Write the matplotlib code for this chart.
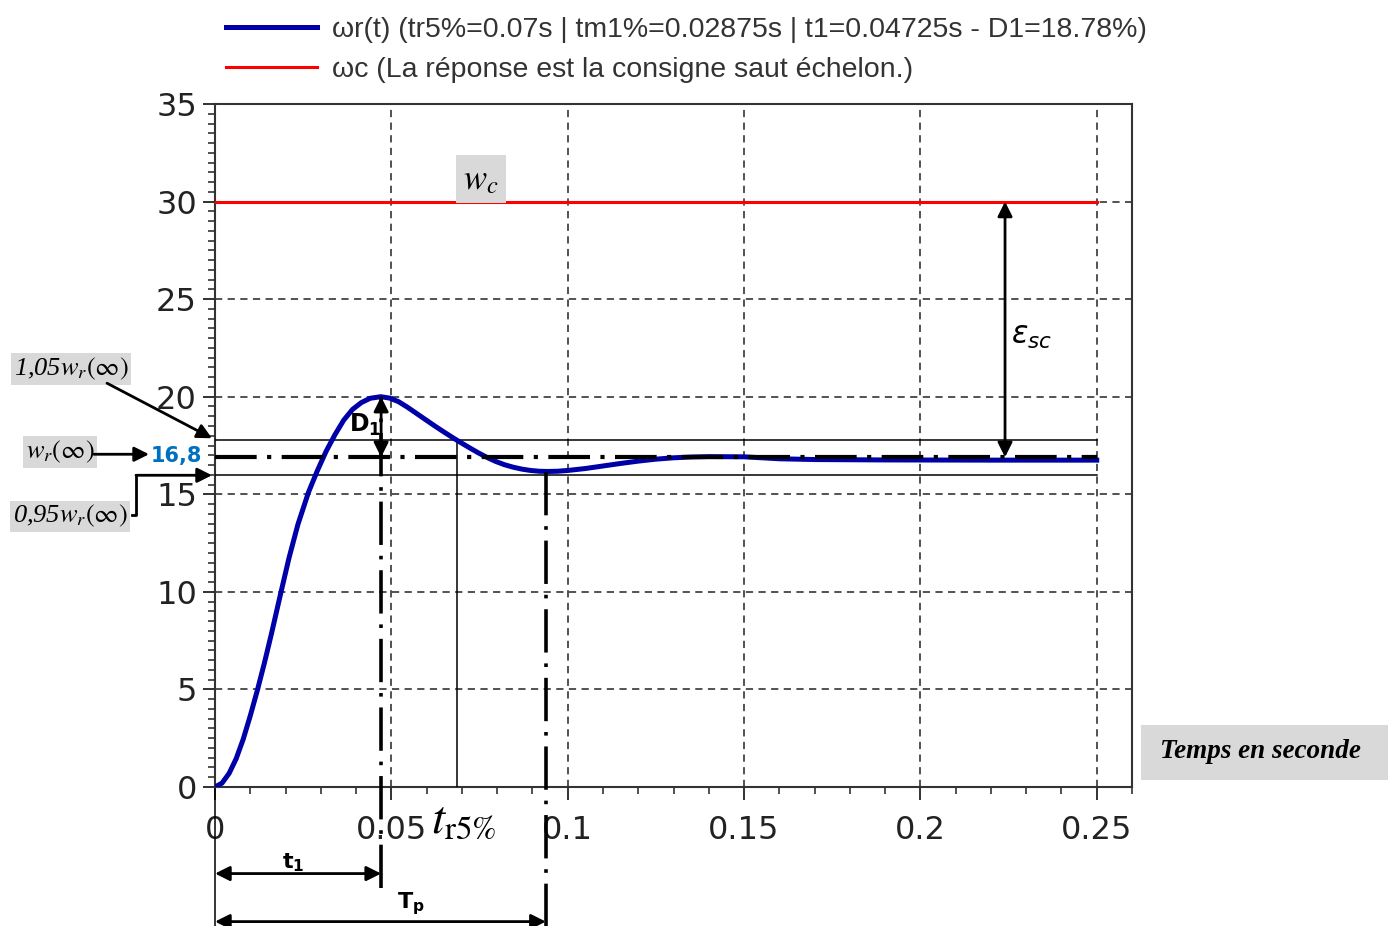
import matplotlib
matplotlib.use('Agg')
import matplotlib.pyplot as plt
from matplotlib.patches import Rectangle
from matplotlib.ticker import MultipleLocator
import numpy as np

# step response
t = [0.0, 0.002, 0.004, 0.006, 0.008, 0.010, 0.012, 0.014, 0.016, 0.0186,
     0.021, 0.0235, 0.0265, 0.029, 0.0315, 0.034, 0.0365, 0.039, 0.0415, 0.044,
     0.047, 0.0495, 0.052, 0.0545, 0.057, 0.0595, 0.062, 0.0645, 0.067, 0.0695,
     0.072, 0.0745, 0.077, 0.0795, 0.082, 0.0845, 0.087, 0.0895, 0.092, 0.0945,
     0.097, 0.100, 0.105, 0.110, 0.115, 0.120, 0.125, 0.130, 0.135, 0.140,
     0.150, 0.160, 0.170, 0.190, 0.220, 0.250]
wr = [0.0, 0.2, 0.7, 1.45, 2.45, 3.65, 4.95, 6.35, 7.85, 9.9,
      11.75, 13.45, 15.1, 16.2, 17.2, 18.05, 18.8, 19.35, 19.7, 19.92,
      20.0, 19.93, 19.75, 19.47, 19.16, 18.85, 18.54, 18.24, 17.95, 17.67,
      17.4, 17.14, 16.9, 16.69, 16.52, 16.39, 16.29, 16.22, 16.18, 16.17,
      16.18, 16.22, 16.32, 16.45, 16.58, 16.7, 16.8, 16.87, 16.91, 16.93,
      16.92, 16.82, 16.78, 16.76, 16.75, 16.75]

w_c = 30.0
w_final = 16.9
band_hi = 17.8
band_lo = 16.0
t_end = 0.25
t1 = 0.0471
tp = 0.0938
tr5 = 0.0686
t_eps = 0.224

xticks = [0, 0.05, 0.1, 0.15, 0.2, 0.25]
xtick_labels = ['0', '0.05', '0.1', '0.15', '0.2', '0.25']
yticks = [0, 5, 10, 15, 20, 25, 30, 35]

legend_labels = ['ωr(t) (tr5%=0.07s | tm1%=0.02875s | t1=0.04725s - D1=18.78%)',
                 'ωc (La réponse est la consigne saut échelon.)']

W, H = 1390, 926
fig = plt.figure(figsize=(W / 100, H / 100), dpi=100)
ax = fig.add_axes([215 / W, 1 - 787 / H, 917 / W, 683 / H])
ax.set_xlim(0, 0.26)
ax.set_ylim(0, 35)


def px(x, y):
    # figure pixel -> data, for the annotations placed outside the axes
    return (x - 215) / 3528, (786.5 - y) / 19.5


blue = '#0000a8'
red = '#ff0000'
gray_box = '#d9d9d9'

l1, = ax.plot(t, wr, color=blue, lw=3.6, zorder=4, solid_joinstyle='round')
l2, = ax.plot([0, t_end], [w_c, w_c], color=red, lw=2.2, zorder=4)

# bands and final value
ax.plot([0, t_end], [band_hi, band_hi], color='k', lw=1.1, zorder=3)
ax.plot([0, t_end], [band_lo, band_lo], color='k', lw=1.1, zorder=3)
ax.plot([0, t_end], [w_final, w_final], color='k', lw=3,
        ls=(0, (10, 2.5, 1, 2.5)), zorder=5)

# vertical markers
bottom_y = px(0, 926)[1]
ax.plot([t1, t1], [px(0, 887)[1], max(wr)], color='k', lw=2.6,
        ls=(0, (12, 3, 1, 3)), clip_on=False, zorder=5)
ax.plot([tp, tp], [bottom_y, min(wr[30:])], color='k', lw=2.6,
        ls=(0, (12, 3, 1, 3)), clip_on=False, zorder=5)
ax.plot([tr5, tr5], [0, band_hi], color='k', lw=1.1, zorder=3)
ax.plot([0, 0], [0, bottom_y], color='k', lw=1.1, clip_on=False)

arr = dict(color='k', lw=2, mutation_scale=22, shrinkA=0, shrinkB=0)
ax.annotate('', xy=(t1, max(wr)), xytext=(t1, w_final),
            arrowprops=dict(arrowstyle='<|-|>', **arr), zorder=6)
ax.annotate('', xy=(t_eps, w_c), xytext=(t_eps, w_final),
            arrowprops=dict(arrowstyle='<|-|>', **arr), zorder=6)
y_t1 = px(0, 873)[1]
ax.annotate('', xy=(t1, y_t1), xytext=(0, y_t1), annotation_clip=False,
            arrowprops=dict(arrowstyle='<|-|>', **arr))
y_tp = px(0, 921)[1]
ax.annotate('', xy=(tp, y_tp), xytext=(0, y_tp), annotation_clip=False,
            arrowprops=dict(arrowstyle='<|-|>', **arr))

# text labels inside / around the axes
ax.text(*px(481, 179), r'$w_c$', fontsize=25, math_fontfamily='stix',
        ha='center', va='center', zorder=6,
        bbox=dict(boxstyle='square,pad=0.2', fc=gray_box, ec='none'))
ax.text(*px(1032, 336), r'$\varepsilon_{sc}$', fontsize=22, math_fontfamily='dejavusans',
        ha='center', va='center')
ax.text(*px(365, 425), r'$\mathbf{D}_\mathbf{1}$', fontsize=17,
        math_fontfamily='dejavusans', ha='center', va='center', zorder=7)
ax.text(*px(431, 832), r'$t_{\mathrm{r5\%}}$', fontsize=34, math_fontfamily='stix',
        ha='left', va='baseline', clip_on=False)
ax.text(*px(293, 862), r'$\mathbf{t}_\mathbf{1}$', fontsize=16,
        math_fontfamily='dejavusans', ha='center', va='center', clip_on=False)
ax.text(*px(411, 903), r'$\mathbf{T}_\mathbf{p}$', fontsize=16,
        math_fontfamily='dejavusans', ha='center', va='center', clip_on=False)

# left-hand labels
lab = dict(fontsize=19, family='Liberation Serif', fontstyle='italic',
           math_fontfamily='stix', ha='center', va='center', clip_on=False,
           bbox=dict(boxstyle='square,pad=0.1', fc=gray_box, ec='none'))
ax.text(*px(71, 369), r'1,05$w_r(\infty)$', **lab)
ax.text(*px(60, 452), r'$w_r(\infty)$', **lab)
ax.text(*px(70, 516), r'0,95$w_r(\infty)$', **lab)
ax.annotate('', xy=px(212, 438), xytext=px(107, 383), annotation_clip=False,
            arrowprops=dict(arrowstyle='-|>', **arr))
ax.annotate('', xy=px(149, 454), xytext=px(94, 454), annotation_clip=False,
            arrowprops=dict(arrowstyle='-|>', **arr))
ax.text(*px(176, 456), '16,8', color='#0070c0', fontsize=15, fontweight='bold',
        ha='center', va='center', clip_on=False)
xa, ya = px(132, 515)
xb, yb = px(136, 475)
ax.plot([xa, xb, xb], [ya, ya, yb], color='k', lw=2, clip_on=False)
ax.annotate('', xy=(px(212, 0)[0], yb), xytext=(xb, yb), annotation_clip=False,
            arrowprops=dict(arrowstyle='-|>', **arr))

# axes styling
ax.set_xticks(xticks)
ax.set_xticklabels(xtick_labels)
ax.set_yticks(yticks)
ax.xaxis.set_minor_locator(MultipleLocator(0.01))
ax.yaxis.set_minor_locator(MultipleLocator(0.5))
ax.tick_params(which='major', direction='out', length=9, width=1.3, labelsize=23,
               colors='#222222')
ax.tick_params(which='minor', direction='out', length=5, width=1.2, colors='#333333')
ax.tick_params(axis='x', which='major', pad=11)
ax.tick_params(axis='y', which='major', pad=4)
ax.grid(True, which='major', ls=(0, (4, 3)), color='#444444', lw=1.3)
for s in ax.spines.values():
    s.set_color('#333333')
    s.set_linewidth(1.5)

fig.legend([l1, l2], legend_labels, loc='upper left', bbox_to_anchor=(226 / W, 1 - 17 / H),
           frameon=False, prop={'family': 'Liberation Sans', 'size': 20.5},
           handlelength=3.2, handletextpad=0.52, labelspacing=0.5, borderpad=0,
           borderaxespad=0, labelcolor='#333333')

# x axis caption box
fig.patches.append(Rectangle((1141 / W, 1 - 780 / H), 247 / W, 55 / H,
                             transform=fig.transFigure, fc=gray_box, ec='none'))
fig.text(1260 / W, 1 - 752 / H, 'Temps en seconde', family='Liberation Serif',
         fontsize=19.5, fontweight='bold', fontstyle='italic', ha='center', va='center')

fig.savefig('out.png', dpi=100)
